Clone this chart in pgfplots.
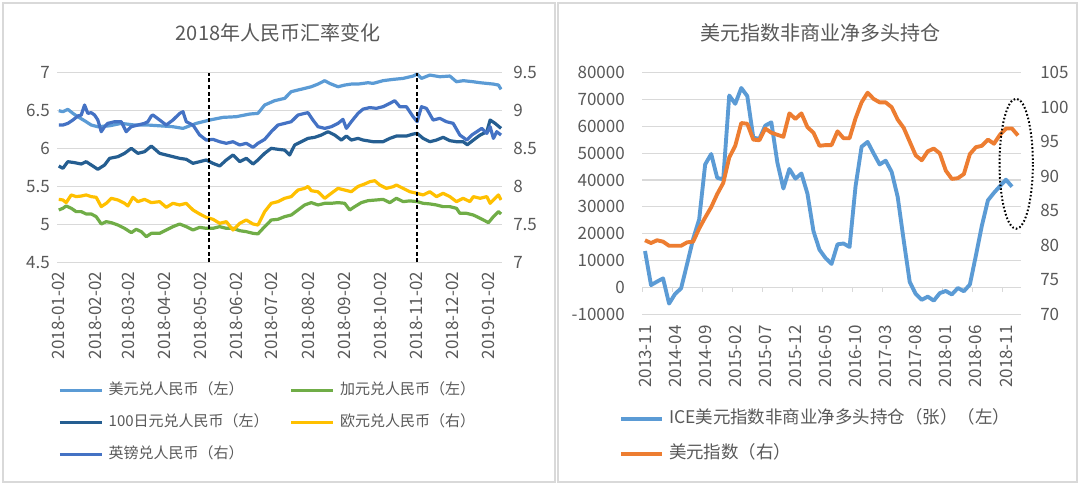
\documentclass[border=0pt]{standalone}
\usepackage{pgfplots}
\pgfplotsset{compat=1.18}
\usepackage{fontspec}
\setmainfont{Noto Sans CJK SC}

\definecolor{usd}{HTML}{5B9BD5}
\definecolor{cad}{HTML}{70AD47}
\definecolor{jpy}{HTML}{255E91}
\definecolor{eur}{HTML}{FFC000}
\definecolor{gbp}{HTML}{4472C4}
\definecolor{dxy}{HTML}{ED7D31}
\definecolor{gridc}{HTML}{D9D9D9}
\definecolor{txt}{HTML}{595959}

\pgfplotsset{
  panel/.style={
    scale only axis, anchor=north west,
    axis line style={draw=none}, tick style={draw=none}, major tick length=0pt,
    scaled ticks=false,
    /pgf/number format/assume math mode=true,
    ticklabel style={font=\fontsize{12.75}{15}\selectfont, text=txt, inner sep=0pt},
    grid style={gridc, line width=0.8pt},
  },
  left panel/.style={panel, at={(42.75pt,-54.53pt)}, width=333.75pt, height=142.2pt,
    xmin=-1.5, xmax=376.5},
  right panel/.style={panel, at={(481.5pt,-54.53pt)}, width=284.25pt, height=181pt,
    xmin=-0.5, xmax=62.5},
}

\begin{document}
\begin{tikzpicture}
\fill[white] (0pt,0pt) rectangle (810pt,-363.75pt);
\draw[gridc, line width=1.2pt] (2.25pt,-2.25pt) rectangle (416.25pt,-361.5pt);
\draw[gridc, line width=1.2pt] (418.5pt,-2.25pt) rectangle (807.75pt,-361.5pt);
\node[font=\fontsize{15}{18}\selectfont, text=txt] at (208.5pt,-24.75pt) {2018年人民币汇率变化};
\node[font=\fontsize{15}{18}\selectfont, text=txt] at (615pt,-25pt) {美元指数非商业净多头持仓};

% ---- 2018 RMB exchange rates, left y axis
\begin{axis}[left panel,
    ymin=4.5, ymax=7,
    ytick={4.5,5,5.5,6,6.5,7}, yticklabels={4.5,5,5.5,6,6.5,7},
    yticklabel shift=5.25pt,
    ymajorgrids,
    xtick={0,31,59,90,120,151,181,212,243,273,304,334,365},
    xticklabels={2018-01-02,2018-02-02,2018-03-02,2018-04-02,2018-05-02,2018-06-02,2018-07-02,2018-08-02,2018-09-02,2018-10-02,2018-11-02,2018-12-02,2019-01-02},
    xticklabel style={rotate=90, anchor=east},
    xticklabel shift=7pt,
    every axis plot/.append style={line width=2.4pt, line join=round},
  ]
\addplot[usd] coordinates {(0,6.499) (3.5,6.486) (7.7,6.517) (12,6.464) (16.2,6.42) (21.9,6.367) (27.6,6.31) (33.2,6.288) (43.2,6.30) (53.1,6.332) (64.4,6.31) (75.7,6.31) (88.5,6.297) (97,6.288) (105.5,6.266) (116.8,6.332) (128.2,6.376) (139.5,6.411) (150.8,6.42) (162.2,6.455) (169.2,6.464) (174.9,6.574) (183.4,6.631) (191.9,6.662) (197.5,6.75) (203.2,6.772) (208.9,6.793) (214.5,6.815) (220.2,6.85) (225.9,6.895) (230.1,6.859) (237.2,6.815) (242.9,6.837) (248.5,6.85) (254.2,6.85) (262.7,6.868) (267,6.859) (275.5,6.895) (284,6.912) (292.5,6.925) (301,6.956) (304.4,6.982) (308.1,6.925) (315.2,6.969) (323.7,6.947) (332.2,6.956) (337.8,6.881) (343.7,6.895) (352,6.881) (357.9,6.868) (363.6,6.859) (369.2,6.85) (373.5,6.837) (375.7,6.78)};
\addplot[cad] coordinates {(0,5.19) (3.5,5.212) (6.3,5.243) (10.6,5.212) (14.8,5.168) (19.1,5.168) (23.3,5.137) (27.6,5.137) (31.8,5.102) (36.1,5.005) (40.3,5.036) (44.6,5.023) (50.2,4.992) (55.9,4.948) (61.6,4.891) (65.8,4.935) (70.1,4.904) (74.3,4.838) (78.6,4.882) (85.7,4.882) (91.3,4.926) (97,4.97) (102.7,5.005) (108.3,4.97) (114,4.926) (119.7,4.961) (125.3,4.948) (131,4.948) (136.7,4.97) (142.3,4.948) (148,4.948) (153.7,4.917) (159.3,4.904) (165,4.882) (169.2,4.875) (174.9,4.97) (180.5,5.058) (186.2,5.067) (191.9,5.102) (197.5,5.124) (203.2,5.19) (208.9,5.256) (214.5,5.287) (220.2,5.256) (225.9,5.278) (231.5,5.278) (237.2,5.287) (242.9,5.278) (247.1,5.19) (251.4,5.234) (257,5.287) (262.7,5.313) (269.8,5.322) (275.5,5.33) (281.2,5.287) (286.8,5.344) (292.5,5.3) (298.2,5.31) (304.4,5.3) (309.5,5.278) (315.2,5.27) (320.8,5.256) (326.5,5.234) (332.2,5.234) (337.8,5.212) (340.7,5.146) (346.3,5.146) (352,5.124) (355.1,5.102) (360.7,5.058) (365,5.023) (369.2,5.102) (373.5,5.168) (375.7,5.137)};
\addplot[jpy] coordinates {(0,5.77) (3.5,5.739) (7.7,5.827) (13.4,5.814) (19.1,5.796) (23.3,5.827) (27.6,5.783) (33.2,5.726) (38.9,5.783) (43.2,5.871) (50.2,5.893) (55.9,5.937) (61.6,6.003) (67.2,5.937) (72.9,5.959) (78.6,6.033) (85.7,5.937) (91.3,5.915) (97,5.893) (102.7,5.871) (108.3,5.858) (114,5.805) (119.7,5.827) (125.3,5.849) (131,5.805) (136.7,5.77) (142.3,5.849) (148,5.915) (153.7,5.827) (159.3,5.871) (165,5.796) (169.2,5.849) (174.9,5.937) (180.5,6.003) (186.2,5.99) (191.9,5.98) (196.1,5.915) (200.4,6.047) (206,6.09) (211.7,6.134) (217.4,6.148) (223,6.178) (228.7,6.222) (234.4,6.178) (240,6.112) (244.3,6.165) (248.5,6.112) (254.2,6.134) (258.5,6.112) (267,6.09) (275.5,6.09) (281.2,6.134) (286.8,6.165) (295.3,6.165) (301,6.191) (304.4,6.2) (309.5,6.134) (315.2,6.09) (320.8,6.112) (326.5,6.148) (332.2,6.104) (337.8,6.09) (343.5,6.09) (347,6.05) (352.2,6.112) (357.9,6.178) (363.6,6.222) (366.4,6.376) (370.6,6.332) (375.7,6.266)};
\end{axis}

% ---- 2018 RMB exchange rates, right y axis
\begin{axis}[left panel,
    ymin=7, ymax=9.5,
    ytick={7,7.5,8,8.5,9,9.5}, yticklabels={7,7.5,8,8.5,9,9.5},
    yticklabel pos=right, yticklabel style={anchor=west}, yticklabel shift=8.25pt,
    xtick=\empty,
    every axis plot/.append style={line width=2.4pt, line join=round},
    legend columns=2, legend cell align=left,
    legend style={at={(0.00225,-0.6313)}, anchor=north west, draw=none, fill=none,
      inner xsep=0pt, inner ysep=0pt, row sep=12pt,
      font=\fontsize{11.25}{13}\selectfont, text=txt,
      nodes={inner xsep=3.75pt, inner ysep=0pt, text height=9pt, text depth=3pt}},
    legend image code/.code={\draw[#1, line width=2.6pt] (0pt,0pt) -- (31.5pt,0pt);},
  ]
\addplot[eur, forget plot] coordinates {(0,7.83) (3.5,7.822) (6.3,7.787) (10.6,7.888) (14.8,7.866) (19.1,7.874) (23.3,7.888) (27.6,7.866) (31.8,7.857) (36.1,7.734) (40.3,7.778) (44.6,7.844) (50.2,7.822) (55.9,7.778) (58.7,7.743) (63,7.857) (67.2,7.8) (72.9,7.83) (78.6,7.787) (85.7,7.8) (91.3,7.725) (97,7.778) (102.7,7.756) (108.3,7.778) (114,7.69) (119.7,7.637) (125.3,7.593) (131,7.567) (136.7,7.514) (142.3,7.536) (148,7.426) (153.7,7.514) (159.3,7.558) (165,7.505) (169.2,7.492) (174.9,7.668) (180.5,7.778) (186.2,7.80) (191.9,7.844) (197.5,7.866) (203.2,7.953) (208.9,7.975) (211.7,8.0) (214.5,7.944) (220.2,7.93) (225.9,7.844) (231.5,7.91) (237.2,7.975) (242.9,7.953) (248.5,7.931) (254.2,8.0) (259.9,8.033) (264.2,8.063) (268.4,8.076) (272.7,8.019) (278.3,7.975) (284,7.997) (286.8,8.019) (292.5,7.975) (298.2,7.931) (304.4,7.91) (309.5,7.888) (315.2,7.931) (320.8,7.866) (326.5,7.91) (332.2,7.866) (337.8,7.8) (343.5,7.844) (349.2,7.8) (352.2,7.866) (357.9,7.844) (363.6,7.866) (366.4,7.778) (370.6,7.844) (373.5,7.888) (375.7,7.822)};
\addplot[gbp, forget plot] coordinates {(0,8.81) (3.5,8.81) (7.7,8.832) (12,8.876) (16.2,8.929) (19.1,8.942) (21.9,9.074) (24.7,8.964) (27.6,8.973) (30.4,8.942) (33.2,8.876) (36.1,8.722) (38.9,8.788) (41.7,8.832) (47.4,8.854) (53.1,8.854) (57.3,8.722) (61.6,8.788) (67.2,8.81) (72.9,8.832) (75.7,8.854) (78.6,8.929) (80,8.942) (85.7,8.876) (91.3,8.81) (97,8.876) (102.7,8.964) (105.5,8.986) (108.3,8.854) (114,8.81) (119.7,8.678) (125.3,8.612) (131,8.621) (136.7,8.59) (142.3,8.569) (148,8.59) (153.7,8.547) (159.3,8.569) (165,8.516) (169.2,8.569) (174.9,8.621) (180.5,8.722) (186.2,8.81) (191.9,8.832) (197.5,8.854) (203.2,8.942) (208.9,8.964) (211.7,8.973) (215.9,8.876) (220.2,8.788) (225.9,8.766) (231.5,8.788) (237.2,8.832) (241.4,8.885) (244.3,8.766) (248.5,8.854) (254.2,8.964) (258.5,9.02) (264.2,9.04) (269.8,9.03) (275.5,9.052) (281.2,9.096) (285.4,9.131) (289.7,9.052) (295.3,9.052) (301,8.92) (304.4,8.854) (308.1,9.052) (312.3,9.03) (318,8.876) (323.7,8.898) (329.3,8.854) (335,8.832) (340.7,8.678) (346.6,8.612) (350.8,8.678) (355.1,8.722) (359.3,8.766) (363.6,8.70) (366.4,8.788) (369.2,8.634) (372,8.722) (375.7,8.678)};
\draw[black, line width=1.5pt, dash pattern=on 3pt off 2pt] (axis cs:128,7) -- (axis cs:128,9.5);
\draw[black, line width=1.5pt, dash pattern=on 3pt off 2pt] (axis cs:304,7) -- (axis cs:304,9.5);
\addlegendimage{usd}
\addlegendimage{cad}
\addlegendimage{jpy}
\addlegendimage{eur}
\addlegendimage{gbp}
\legend{\makebox[132pt][l]{美元兑人民币（左）}, 加元兑人民币（左）, \makebox[132pt][l]{100日元兑人民币（左）}, 欧元兑人民币（右）, \makebox[132pt][l]{英镑兑人民币（右）}}
\end{axis}

% ---- ICE dollar index net non-commercial positions, left y axis
\begin{axis}[right panel,
    ymin=-10000, ymax=80000,
    ytick={-10000,0,10000,20000,30000,40000,50000,60000,70000,80000},
    yticklabels={-10000,0,10000,20000,30000,40000,50000,60000,70000,80000},
    yticklabel shift=12.75pt,
    ymajorgrids,
    xtick={0,5,10,15,20,25,30,35,40,45,50,55,60},
    xticklabels={2013-11,2014-04,2014-09,2015-02,2015-07,2015-12,2016-05,2016-10,2017-03,2017-08,2018-01,2018-06,2018-11},
    xticklabel style={rotate=90, anchor=east},
    xticklabel shift=8.25pt,
  ]
\pgfplotsinvokeforeach{-0.5,4.5,9.5,14.5,19.5,24.5,29.5,34.5,39.5,44.5,49.5,54.5,59.5}{
  \draw[gridc, line width=0.8pt] (axis cs:#1,0) -- ++(0pt,-3.75pt);
}
\addplot[usd, line width=2.9pt, line join=round] coordinates {(0,13500) (1,800) (2,2100) (3,3300) (4,-6100) (5,-2500) (6,-400) (7,8700) (8,18000) (9,25300) (10,45800) (11,49700) (12,40800) (13,40200) (14,71500) (15,68400) (16,74300) (17,71300) (18,55800) (19,55300) (20,60300) (21,61500) (22,46500) (23,36800) (24,44100) (25,40500) (26,42400) (27,34900) (28,20900) (29,14000) (30,10900) (31,8700) (32,16000) (33,16300) (34,15000) (35,37700) (36,52400) (37,54200) (38,49900) (39,45800) (40,47200) (41,43000) (42,33700) (43,17500) (44,2000) (45,-2500) (46,-4700) (47,-3500) (48,-5000) (49,-2200) (50,-1400) (51,-2700) (52,-300) (53,-1500) (54,1000) (55,11800) (56,23000) (57,32400) (58,35200) (59,37700) (60,40100) (61,37500)};
\end{axis}

% ---- US dollar index, right y axis
\begin{axis}[right panel,
    clip=false,
    ymin=70, ymax=105,
    ytick={70,75,80,85,90,95,100,105}, yticklabels={70,75,80,85,90,95,100,105},
    yticklabel pos=right, yticklabel style={anchor=west}, yticklabel shift=14.25pt,
    xtick=\empty,
    legend cell align=left,
    legend style={at={(-0.0607,-0.3978)}, anchor=north west, draw=none, fill=none,
      inner xsep=0pt, inner ysep=0pt, row sep=12.75pt,
      font=\fontsize{13.1}{15}\selectfont, text=txt,
      nodes={inner xsep=3.75pt, inner ysep=0pt, text height=10pt, text depth=3.5pt}},
    legend image code/.code={\draw[#1, line width=2.8pt] (0pt,0pt) -- (30.75pt,0pt);},
  ]
\addplot[dxy, line width=2.9pt, line join=round, forget plot] coordinates {(0,80.7) (1,80.3) (2,80.7) (3,80.5) (4,79.9) (5,79.9) (6,79.9) (7,80.4) (8,80.5) (9,82.4) (10,84.0) (11,85.5) (12,87.4) (13,89.0) (14,92.7) (15,94.4) (16,97.7) (17,97.6) (18,95.3) (19,95.2) (20,96.9) (21,96.3) (22,96.0) (23,95.7) (24,99.1) (25,98.3) (26,99.1) (27,97.1) (28,96.3) (29,94.4) (30,94.5) (31,94.5) (32,96.5) (33,95.5) (34,95.5) (35,98.4) (36,100.7) (37,102.1) (38,101.2) (39,100.7) (40,100.7) (41,100.0) (42,98.2) (43,97.0) (44,95.0) (45,93.0) (46,92.3) (47,93.6) (48,94.0) (49,93.3) (50,90.8) (51,89.6) (52,89.7) (53,90.3) (54,93.2) (55,94.2) (56,94.4) (57,95.3) (58,94.7) (59,96.0) (60,96.9) (61,96.9) (62,95.9)};
\draw[black, line width=1.5pt, dash pattern=on 1.2pt off 1.6pt] (axis cs:61.7,91.8) ellipse [x radius=12.5pt, y radius=48.75pt];
\addlegendimage{usd}
\addlegendimage{dxy}
\legend{ICE美元指数非商业净多头持仓（张）（左）, 美元指数（右）}
\end{axis}
\end{tikzpicture}
\end{document}
